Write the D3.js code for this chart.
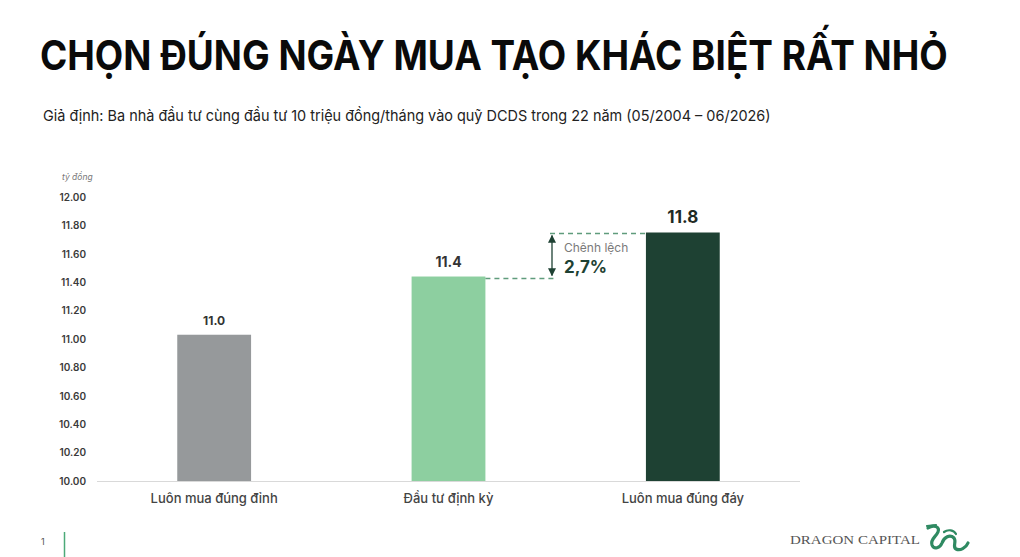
<!DOCTYPE html>
<html><head><meta charset="utf-8">
<script src="https://cdn.jsdelivr.net/npm/d3@7"></script>
<style>
html,body{margin:0;padding:0;background:#fff;}
svg{display:block;font-family:Inter,"Noto Sans",sans-serif;}
</style></head>
<body><svg id="c" width="1020" height="557"></svg>
<script>
const titleText = "CHỌN ĐÚNG NGÀY MUA TẠO KHÁC BIỆT RẤT NHỎ";
const subtitleText = "Giả định: Ba nhà đầu tư cùng đầu tư 10 triệu đồng/tháng vào quỹ DCDS trong 22 năm (05/2004 – 06/2026)";
const categories = ["Luôn mua đúng đỉnh", "Đầu tư định kỳ", "Luôn mua đúng đáy"];
const values = [11.03, 11.44, 11.75];
const valueLabels = ["11.0", "11.4", "11.8"];
const barColors = ["#96999b", "#8dcfa0", "#1e4133"];
const yTicks = [10.0, 10.2, 10.4, 10.6, 10.8, 11.0, 11.2, 11.4, 11.6, 11.8, 12.0];
const unitLabel = "tỷ đồng";
const diffLabel = "Chênh lệch";
const diffValue = "2,7%";

const svg = d3.select("#c");

// Title, fitted to width with a horizontal scale
const tg = svg.append("g");
const tt = tg.append("text").attr("x", 0).attr("y", 0)
  .attr("font-family", "Inter, sans-serif").attr("font-weight", 700)
  .attr("font-size", 41).attr("fill", "#0a0a0a")
  .text(titleText);
const tw = tt.node().getComputedTextLength();
tg.attr("transform", `translate(40,70) scale(${908 / tw},1)`);

const sg = svg.append("g");
const st = sg.append("text").attr("x", 0).attr("y", 0)
  .attr("font-size", 15).attr("fill", "#222")
  .text(subtitleText);
const sw = st.node().getComputedTextLength();
sg.attr("transform", `translate(43,121) scale(${728 / sw},1)`);

const x = d3.scaleBand().domain(categories).range([97, 800]).paddingInner(0).paddingOuter(0);
const y = d3.scaleLinear().domain([10, 12]).range([481, 197]);
const barW = x.bandwidth() * 0.315;

// y axis labels
const yAxis = d3.axisLeft(y).tickValues(yTicks).tickFormat(d3.format(".2f")).tickSize(0).tickPadding(0);
const ya = svg.append("g").attr("transform", "translate(86,0)").call(yAxis);
ya.select(".domain").remove();
ya.selectAll("text").attr("font-size", 10).attr("font-weight", 600).attr("fill", "#3a3a3a")
  .attr("font-family", "Inter, sans-serif");

svg.append("text").attr("x", 62).attr("y", 180).attr("font-size", 8.5)
  .attr("font-style", "italic").attr("fill", "#777").text(unitLabel);

// baseline
svg.append("line").attr("x1", 97).attr("x2", 800).attr("y1", y(10) + 0.5).attr("y2", y(10) + 0.5)
  .attr("stroke", "#d9d9d9").attr("stroke-width", 1);

// bars
svg.selectAll("rect.bar").data(categories).join("rect").attr("class", "bar")
  .attr("x", d => x(d) + x.bandwidth() / 2 - barW / 2)
  .attr("y", (d, i) => y(values[i]))
  .attr("width", barW)
  .attr("height", (d, i) => y(10) - y(values[i]))
  .attr("fill", (d, i) => barColors[i]);

// value labels
const vlSizes = [12, 14, 17];
svg.selectAll("text.vl").data(categories).join("text").attr("class", "vl")
  .attr("x", d => x(d) + x.bandwidth() / 2)
  .attr("y", (d, i) => y(values[i]) - 10)
  .attr("text-anchor", "middle")
  .attr("font-weight", 700)
  .attr("font-size", (d, i) => vlSizes[i])
  .attr("fill", (d, i) => i === 2 ? "#1f2a25" : "#333")
  .text((d, i) => valueLabels[i]);

// category labels
const xAxis = d3.axisBottom(x).tickSize(0).tickPadding(0);
const xa = svg.append("g").attr("transform", `translate(0,${y(10) + 22})`).call(xAxis);
xa.select(".domain").remove();
xa.selectAll("text").attr("font-size", 13).attr("font-weight", 500).attr("fill", "#444")
  .attr("font-family", "Inter, sans-serif").attr("dy", "0");

// difference annotation
const gRight = x(categories[1]) + x.bandwidth() / 2 + barW / 2;
const dLeft = x(categories[2]) + x.bandwidth() / 2 - barW / 2;
const arrowX = 552;
const dashC = "#5f9c7c";
svg.append("line").attr("x1", gRight).attr("x2", arrowX + 4).attr("y1", y(values[1]) + 2).attr("y2", y(values[1]) + 2)
  .attr("stroke", dashC).attr("stroke-width", 1.3).attr("stroke-dasharray", "5,4");
svg.append("line").attr("x1", arrowX - 2).attr("x2", dLeft).attr("y1", y(values[2]) + 1).attr("y2", y(values[2]) + 1)
  .attr("stroke", dashC).attr("stroke-width", 1.3).attr("stroke-dasharray", "5,4");

const defs = svg.append("defs");
defs.append("marker").attr("id", "ah").attr("viewBox", "0 0 10 10").attr("refX", 9).attr("refY", 5)
  .attr("markerWidth", 8).attr("markerHeight", 8).attr("orient", "auto-start-reverse")
  .attr("markerUnits", "userSpaceOnUse")
  .append("path").attr("d", "M0,0 L10,5 L0,10 z").attr("fill", "#1e4133");
svg.append("line").attr("x1", arrowX).attr("x2", arrowX)
  .attr("y1", y(values[2]) + 3).attr("y2", y(values[1]) - 1)
  .attr("stroke", "#1e4133").attr("stroke-width", 1.3)
  .attr("marker-start", "url(#ah)").attr("marker-end", "url(#ah)");

svg.append("text").attr("x", 564).attr("y", 252).attr("font-size", 12).attr("fill", "#7a7a7a").text(diffLabel);
svg.append("text").attr("x", 564).attr("y", 273).attr("font-size", 17).attr("font-weight", 700)
  .attr("fill", "#1e4133").text(diffValue);

// footer
svg.append("text").attr("x", 41).attr("y", 545).attr("font-size", 9).attr("fill", "#555").text("1");
svg.append("line").attr("x1", 64.5).attr("x2", 64.5).attr("y1", 532).attr("y2", 557)
  .attr("stroke", "#4caa78").attr("stroke-width", 1.5);
svg.append("text").attr("x", 790).attr("y", 544).attr("font-size", 13)
  .attr("font-family", "'Liberation Serif', 'DejaVu Serif', serif").attr("fill", "#555")
  .attr("textLength", 130).attr("lengthAdjust", "spacingAndGlyphs").text("DRAGON CAPITAL");
// stylised dragon mark
const lg = svg.append("g").attr("transform", "translate(926,524)").attr("fill", "none")
  .attr("stroke", "#2f8a62").attr("stroke-width", 3.2).attr("stroke-linecap", "round").attr("stroke-linejoin", "round");
lg.append("path").attr("d", "M2,4 C8,0 14,3 12,8 C10,13 4,15 6,21 C8,26 14,24 16,19 C18,13 24,10 28,14 C31,18 26,23 30,25 C34,27 40,24 42,19");
lg.append("path").attr("d", "M1,2 L10,1 M18,8 C22,5 28,6 30,10").attr("stroke-width", 2.2);
</script></body></html>
